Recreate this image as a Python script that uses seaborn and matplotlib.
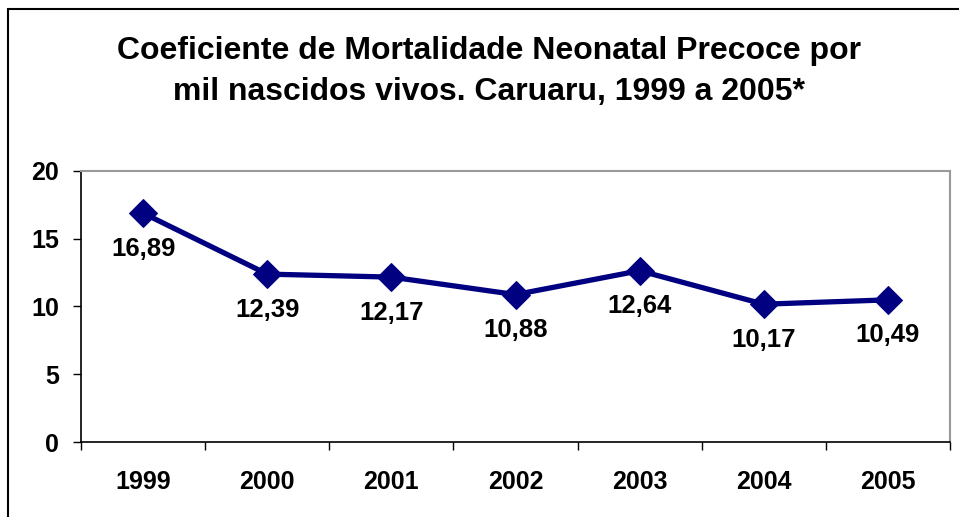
import numpy as np
import pandas as pd
import matplotlib
matplotlib.use('Agg')
import matplotlib.pyplot as plt
import seaborn as sns
from matplotlib.patches import Rectangle

# dados do gráfico
anos = ['1999', '2000', '2001', '2002', '2003', '2004', '2005']
coeficiente = [16.89, 12.39, 12.17, 10.88, 12.64, 10.17, 10.49]
rotulos = ['16,89', '12,39', '12,17', '10,88', '12,64', '10,17', '10,49']
yticks = [0, 5, 10, 15, 20]

sns.set_style('white')
plt.rcParams['font.family'] = ['Liberation Sans', 'DejaVu Sans']
plt.rcParams['font.weight'] = 'bold'
plt.rcParams['text.color'] = 'black'
plt.rcParams['xtick.color'] = 'black'
plt.rcParams['ytick.color'] = 'black'

df = pd.DataFrame({'pos': np.arange(len(anos)), 'valor': coeficiente})

fig = plt.figure(figsize=(9.59, 5.17), dpi=100)
ax = fig.add_axes([81/959, 1-442/517, (950-81)/959, (442-171)/517])

sns.lineplot(data=df, x='pos', y='valor', ax=ax, color='#000080', linewidth=3.8,
             marker='D', markersize=14.5, markeredgecolor='#000080')

for x, y, t in zip(df['pos'], coeficiente, rotulos):
    ax.annotate(t, (x, y), xytext=(0, -25.5), textcoords='offset points',
                ha='center', va='center', fontsize=18.5, fontweight='bold', color='black')

ax.set_xlim(-0.5, len(anos) - 0.5)
ax.set_ylim(0, 20)
ax.set_yticks(yticks)
ax.set_yticklabels([str(v) for v in yticks], fontsize=18, fontweight='bold')
ax.set_xticks(np.arange(-0.5, len(anos), 1.0))
ax.set_xticklabels([])
ax.set_xticks(np.arange(len(anos)), minor=True)
ax.set_xticklabels(anos, minor=True, fontsize=18, fontweight='bold')
ax.tick_params(axis='x', which='major', direction='out', length=6, width=1, color='black', bottom=True)
ax.tick_params(axis='x', which='minor', length=0, pad=20)
ax.tick_params(axis='y', direction='out', length=6, width=1, color='black', left=True, pad=10)
ax.set_xlabel('')
ax.set_ylabel('')

for s in ['left', 'bottom']:
    ax.spines[s].set_color('black')
    ax.spines[s].set_linewidth(1.2)
for s in ['top', 'right']:
    ax.spines[s].set_color('#999999')
    ax.spines[s].set_linewidth(1.5)

fig.text(0.510, 1 - 71.5/517, 'Coeficiente de Mortalidade Neonatal Precoce por\nmil nascidos vivos. Caruaru, 1999 a 2005*',
         ha='center', va='center', fontsize=23, fontweight='bold', linespacing=1.5, color='black')

# borda externa
fig.patches.append(Rectangle((8/959, -0.1), 1.2, 1.1 - 9/517, transform=fig.transFigure,
                             fill=False, edgecolor='black', linewidth=1.5))

fig.savefig('out.png', dpi=100)
